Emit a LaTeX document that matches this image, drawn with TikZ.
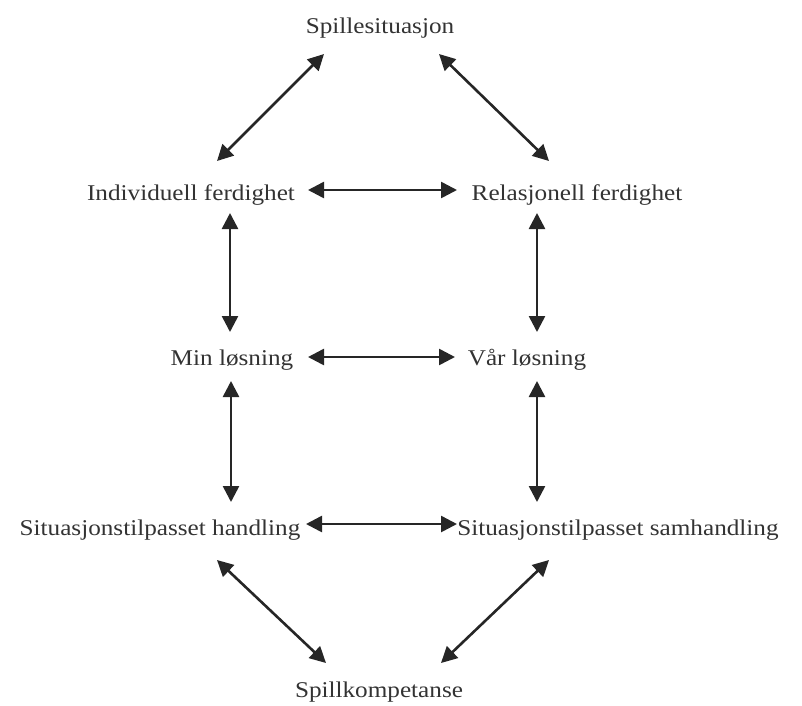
\documentclass[tikz,border=0pt]{standalone}
\usepackage{fontspec}
\setmainfont[FakeStretch=1.12]{Liberation Serif}
\usetikzlibrary{arrows.meta}
\begin{document}
\begin{tikzpicture}[x=1pt,y=-1pt,
  lbl/.style={anchor=base,inner sep=0pt,font=\fontsize{22.5}{26}\selectfont,text=black!80},
  link/.style={line width=2.6pt,black!85,{Triangle[length=16pt,width=16pt]}-{Triangle[length=16pt,width=16pt]}}]
\useasboundingbox (0,0) rectangle (802,705);
\node[lbl] (top) at (380,33) {Spillesituasjon};
\node[lbl] (ind) at (191,200) {Individuell ferdighet};
\node[lbl] (rel) at (577,200) {Relasjonell ferdighet};
\node[lbl] (min) at (232,365) {Min løsning};
\node[lbl] (vaar) at (527,365) {Vår løsning};
\node[lbl] (sh) at (160,535) {Situasjonstilpasset handling};
\node[lbl] (ss) at (618,535) {Situasjonstilpasset samhandling};
\node[lbl] (bot) at (379,697) {Spillkompetanse};
% connector end points
\coordinate (t1) at (324,54); \coordinate (i1) at (217,161);
\coordinate (t2) at (439,54); \coordinate (r1) at (549,161);
\coordinate (i2) at (308,190); \coordinate (r2) at (457,190);
\coordinate (i3) at (230,213); \coordinate (m1) at (230,332);
\coordinate (r3) at (537,213); \coordinate (v1) at (537,332);
\coordinate (m2) at (308,357); \coordinate (v2) at (455,357);
\coordinate (m3) at (231,381); \coordinate (s1) at (231,502);
\coordinate (v3) at (537,381); \coordinate (s2) at (537,502);
\coordinate (s3) at (306,524); \coordinate (s4) at (457,524);
\coordinate (s5) at (217,560); \coordinate (b1) at (326,663);
\coordinate (s6) at (549,560); \coordinate (b2) at (441,663);
\draw[link] (t1) -- (i1);
\draw[link] (t2) -- (r1);
\draw[link] (i2) -- (r2);
\draw[link] (i3) -- (m1);
\draw[link] (r3) -- (v1);
\draw[link] (m2) -- (v2);
\draw[link] (m3) -- (s1);
\draw[link] (v3) -- (s2);
\draw[link] (s3) -- (s4);
\draw[link] (s5) -- (b1);
\draw[link] (s6) -- (b2);
\end{tikzpicture}
\end{document}
